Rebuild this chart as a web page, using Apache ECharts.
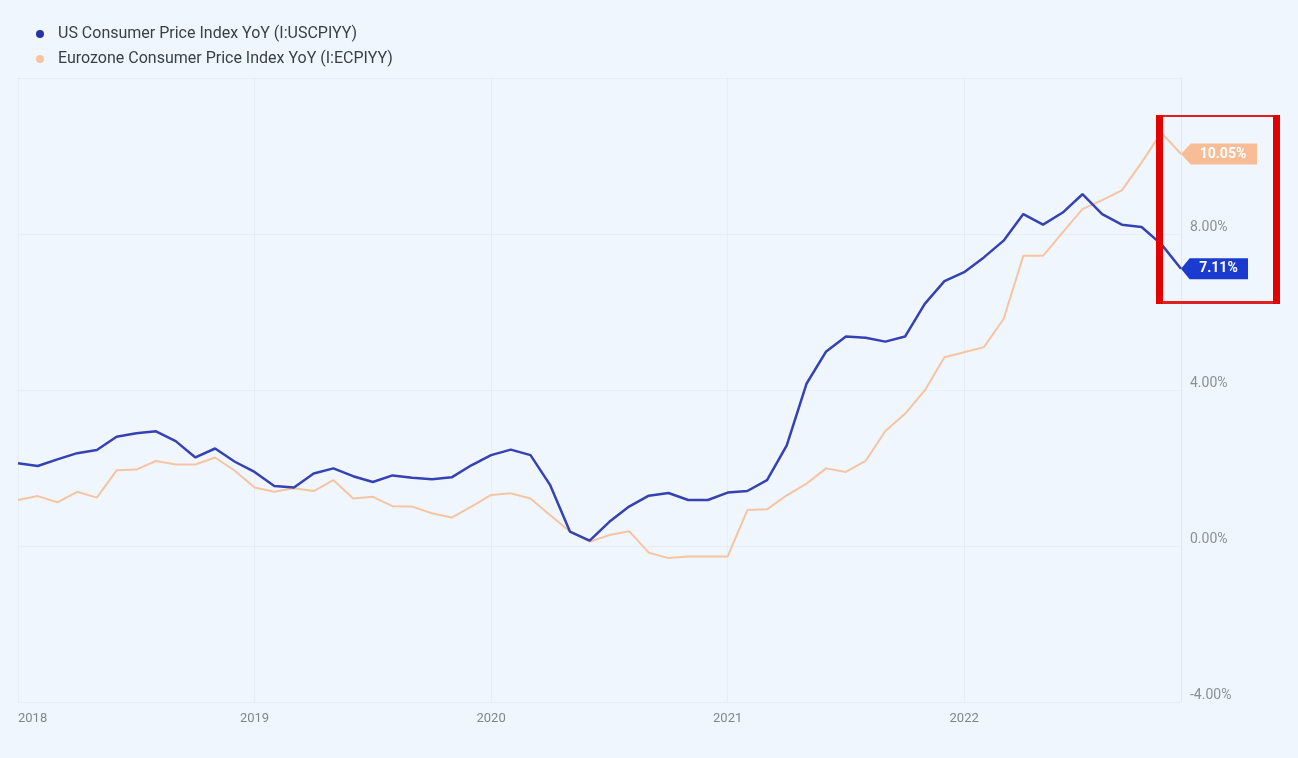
<!DOCTYPE html>
<html>
<head>
<meta charset="utf-8">
<script src="https://cdn.jsdelivr.net/npm/echarts@6/dist/echarts.min.js"></script>
<style>
  html, body { margin: 0; padding: 0; background: #F0F6FE; }
  #chart { width: 1298px; height: 758px; }
</style>
</head>
<body>
<div id="chart"></div>
<script>
// Observation months (Dec 2017 .. Nov 2022)
const months = [];
for (let i = 0; i < 60; i++) {
  const y = 2017 + Math.floor((11 + i) / 12);
  const m = ((11 + i) % 12) + 1;
  months.push(y + '-' + (m < 10 ? '0' + m : m));
}
const yearTicks = ['2018', '2019', '2020', '2021', '2022'];

const usName = 'US Consumer Price Index YoY (I:USCPIYY)';
const ezName = 'Eurozone Consumer Price Index YoY (I:ECPIYY)';

const usValues = [
  2.12, 2.05, 2.22, 2.38, 2.46, 2.80, 2.89, 2.94, 2.69, 2.27, 2.50, 2.16,
  1.90, 1.54, 1.50, 1.86, 1.99, 1.79, 1.64, 1.81, 1.75, 1.71, 1.76, 2.07,
  2.33, 2.47, 2.33, 1.56, 0.37, 0.14, 0.62, 1.01, 1.29, 1.36, 1.18, 1.18,
  1.37, 1.41, 1.69, 2.58, 4.16, 4.99, 5.37, 5.34, 5.24, 5.37, 6.21, 6.79,
  7.02, 7.40, 7.83, 8.51, 8.24, 8.55, 9.02, 8.51, 8.24, 8.18, 7.74, 7.11
];
const ezValues = [
  1.18, 1.28, 1.12, 1.39, 1.24, 1.94, 1.96, 2.18, 2.09, 2.09, 2.27, 1.93,
  1.50, 1.39, 1.48, 1.41, 1.69, 1.22, 1.26, 1.02, 1.01, 0.84, 0.73, 1.01,
  1.31, 1.35, 1.22, 0.79, 0.37, 0.11, 0.28, 0.38, -0.17, -0.31, -0.27, -0.27,
  -0.27, 0.92, 0.94, 1.30, 1.60, 1.99, 1.90, 2.18, 2.95, 3.39, 3.99, 4.84,
  4.97, 5.10, 5.82, 7.44, 7.44, 8.04, 8.64, 8.87, 9.12, 9.83, 10.60, 10.05
];

const usColor = '#3542B4';
const usTag = '#1B3AD0';
const ezColor = '#F7C4A2';
const ezTag = '#F8BD96';
const last = months.length - 1;

function tag(values, color, width) {
  return {
    symbol: 'path://M0,10 L9,0 L70,0 L70,20 L9,20 Z',
    symbolSize: [width, 21],
    symbolOffset: [width / 2, 0],
    symbolKeepAspect: false,
    silent: true,
    itemStyle: { color: color },
    label: {
      show: true, position: 'inside', offset: [4, 0],
      color: '#ffffff', fontWeight: 'bold', fontSize: 14, fontFamily: 'Roboto',
      formatter: p => p.value.toFixed(2) + '%'
    },
    data: [{ coord: [months[last], values[last]], value: values[last] }]
  };
}

const chart = echarts.init(document.getElementById('chart'));
chart.setOption({
  backgroundColor: '#F0F6FE',
  animation: false,
  legend: {
    orient: 'vertical',
    left: 31, top: 21,
    icon: 'circle',
    itemWidth: 26, itemHeight: 8, itemGap: 9,
    textStyle: { fontSize: 16, color: '#3b3f45', fontFamily: 'Roboto' },
    data: [
      { name: usName, itemStyle: { color: '#2633A6' } },
      { name: ezName, itemStyle: { color: ezColor } }
    ]
  },
  grid: { left: 18, right: 117, top: 78, bottom: 56 },
  xAxis: {
    type: 'category',
    data: months,
    boundaryGap: false,
    axisLine: { show: false },
    axisTick: { show: false },
    axisLabel: {
      interval: (idx) => idx % 12 === 0,
      formatter: (v, idx) => yearTicks[idx / 12] || '',
      color: '#80868f', fontSize: 13, fontFamily: 'Roboto', margin: 10,
      alignMinLabel: 'left'
    },
    splitLine: {
      show: true,
      interval: (idx) => idx % 12 === 0,
      lineStyle: { color: 'rgba(40,60,100,0.045)', width: 1 }
    }
  },
  yAxis: {
    type: 'value',
    position: 'right',
    min: -4, max: 12, interval: 4,
    axisLine: { show: true, lineStyle: { color: 'rgba(40,60,100,0.07)' } },
    axisTick: { show: false },
    axisLabel: {
      showMaxLabel: false,
      verticalAlign: 'bottom',
      margin: 9,
      color: '#8a9099', fontSize: 14, fontFamily: 'Roboto',
      formatter: v => v.toFixed(2) + '%'
    },
    splitLine: { lineStyle: { color: 'rgba(40,60,100,0.045)', width: 1 } }
  },
  series: [
    {
      name: ezName, type: 'line', data: ezValues, showSymbol: false,
      lineStyle: { color: ezColor, width: 2 }, itemStyle: { color: ezColor },
      z: 2,
      markPoint: tag(ezValues, ezTag, 76)
    },
    {
      name: usName, type: 'line', data: usValues, showSymbol: false,
      lineStyle: { color: usColor, width: 2.5 }, itemStyle: { color: usColor },
      z: 3,
      markPoint: tag(usValues, usTag, 67)
    }
  ],
  graphic: [
    { type: 'rect', z: 100, shape: { x: 1156, y: 115, width: 124, height: 2 }, style: { fill: '#E0201E' } },
    { type: 'rect', z: 100, shape: { x: 1156, y: 301, width: 124, height: 3 }, style: { fill: '#E0201E' } },
    { type: 'rect', z: 100, shape: { x: 1156, y: 115, width: 7, height: 189 }, style: { fill: '#E50000' } },
    { type: 'rect', z: 100, shape: { x: 1273, y: 115, width: 7, height: 189 }, style: { fill: '#E50000' } }
  ]
});
</script>
</body>
</html>
